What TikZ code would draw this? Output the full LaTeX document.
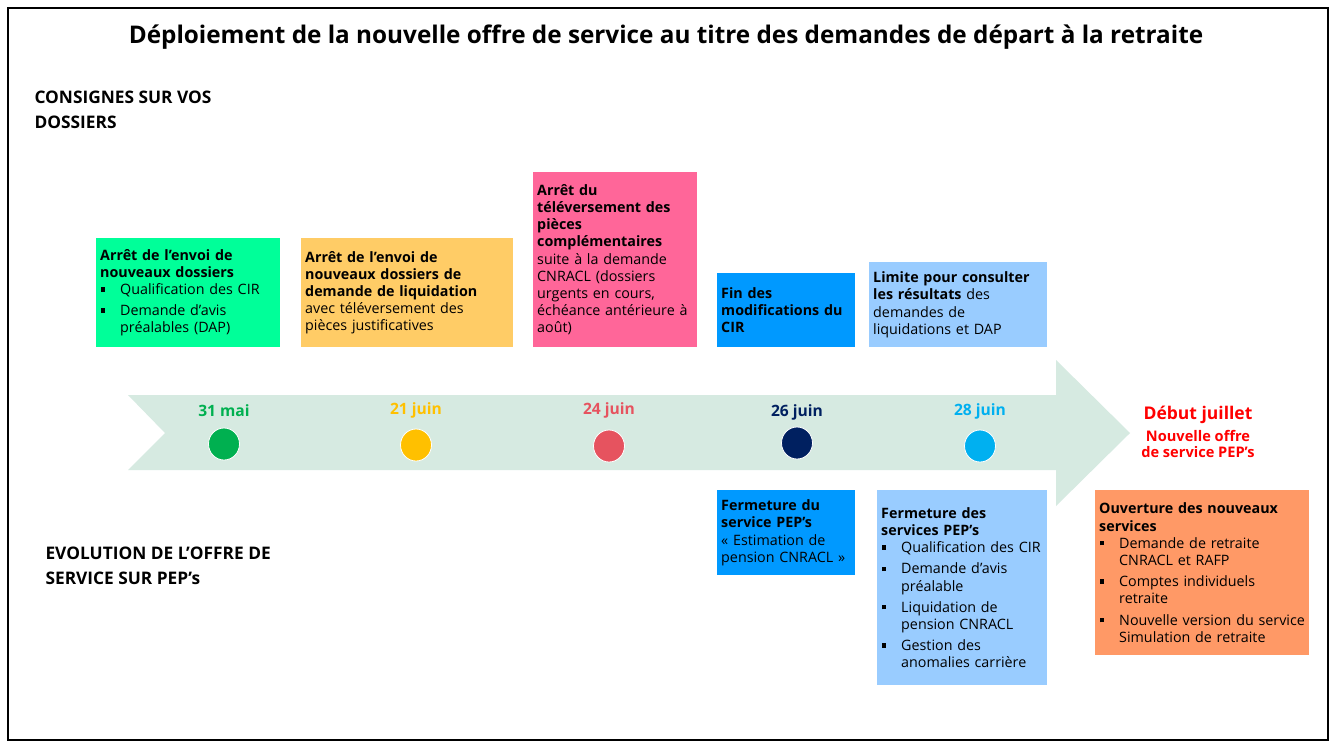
\documentclass[tikz,border=0pt]{standalone}
\usepackage{fontspec}
\setmainfont{Open Sans}
\usetikzlibrary{positioning,shapes.geometric}
\definecolor{boxgreen}{RGB}{0,255,153}
\definecolor{boxorange}{RGB}{255,204,102}
\definecolor{boxpink}{RGB}{255,102,153}
\definecolor{boxblue}{RGB}{0,153,255}
\definecolor{boxlight}{RGB}{153,204,255}
\definecolor{boxsalmon}{RGB}{255,153,102}
\definecolor{arrowmint}{RGB}{214,234,225}
\definecolor{dgreen}{RGB}{0,176,80}
\definecolor{dyellow}{RGB}{255,192,0}
\definecolor{dred}{RGB}{230,83,95}
\definecolor{dnavy}{RGB}{0,32,96}
\definecolor{dcyan}{RGB}{0,176,240}
\newcommand{\bitem}[1]{\par\addvspace{4pt}{\leftskip=20pt\noindent\llap{\makebox[20pt][l]{\hspace{0.5pt}\rule[2.8pt]{4.5pt}{4.5pt}}}#1\par}}
\tikzset{
  panel/.style={draw=none, anchor=north west, inner sep=0pt},
  paneltext/.style={anchor=west, align=left, inner sep=0pt,
    font=\fontsize{14.3}{17.2}\selectfont, text=black},
  datelabel/.style={font=\bfseries\fontsize{15.6}{18}\selectfont},
  dot/.style={ellipse, draw=white, line width=0.8pt, minimum width=31pt, minimum height=32pt, inner sep=0pt},
  sidelabel/.style={anchor=west, align=left, font=\bfseries\fontsize{17.3}{24.5}\selectfont}
}
\begin{document}
\begin{tikzpicture}[x=1pt,y=-1pt]
\useasboundingbox (0,0) rectangle (1337,748);
\fill[white] (0,0) rectangle (1337,748);
\draw[line width=2.5pt] (8,8) rectangle (1328,740);

\node[font=\bfseries\fontsize{24.3}{28}\selectfont] (title) at (666,37) {Déploiement de la nouvelle offre de service au titre des demandes de départ à la retraite};

\node[sidelabel] (consignes) at (31,110) {CONSIGNES SUR VOS\\DOSSIERS};
\node[sidelabel] (evolution) at (42,566) {EVOLUTION DE L’OFFRE DE\\SERVICE SUR PEP’s};

% arrow
\fill[arrowmint] (128,395) -- (1056,395) -- (1056,360) -- (1130,433) -- (1056,506) -- (1056,470) -- (128,470) -- (165,433) -- cycle;

% dates
\node[datelabel, text=dgreen] (d1) at (224,411) {31 mai};
\node[dot, fill=dgreen] (c1) at (224,444) {};
\node[datelabel, text=dyellow] (d2) at (416,410) {21 juin};
\node[dot, fill=dyellow] (c2) at (416,445) {};
\node[datelabel, text=dred] (d3) at (609,410) {24 juin};
\node[dot, fill=dred] (c3) at (609,446) {};
\node[datelabel, text=dnavy] (d4) at (797,412) {26 juin};
\node[dot, fill=dnavy] (c4) at (797,443) {};
\node[datelabel, text=dcyan] (d5) at (980,411) {28 juin};
\node[dot, fill=dcyan] (c5) at (980,446) {};

\node[text=red, font=\bfseries\fontsize{17.5}{19}\selectfont] (debut) at (1198,415) {Début juillet};
\node[text=red, align=center, font=\bfseries\fontsize{14.6}{16.5}\selectfont, below=-1pt of debut, anchor=north] (nouvelle) {Nouvelle offre\\de service PEP’s};

% top panels
\node[panel, fill=boxgreen, minimum width=184pt, minimum height=109pt] (b1) at (96,238) {};
\node[paneltext, text width=184pt] (t1) at ([xshift=4pt]b1.west) {\textbf{Arrêt de l’envoi de}\\\textbf{nouveaux dossiers}\par\vspace{-4pt}
\bitem{Qualification des CIR}
\bitem{Demande d’avis\\préalables (DAP)}};

\node[panel, fill=boxorange, minimum width=212pt, minimum height=109pt] (b2) at (301,238) {};
\node[paneltext, text width=212pt] (t2) at ([xshift=4pt]b2.west) {\textbf{Arrêt de l’envoi de}\\\textbf{nouveaux dossiers de}\\\textbf{demande de liquidation}\\avec téléversement des\\pièces justificatives};

\node[panel, fill=boxpink, minimum width=164pt, minimum height=175pt] (b3) at (533,172) {};
\node[paneltext, text width=164pt] (t3) at ([xshift=4pt]b3.west) {\textbf{Arrêt du}\\\textbf{téléversement des}\\\textbf{pièces}\\\textbf{complémentaires}\\suite à la demande\\CNRACL (dossiers\\urgents en cours,\\échéance antérieure à\\août)};

\node[panel, fill=boxblue, minimum width=138pt, minimum height=74pt] (b4) at (717,273) {};
\node[paneltext, text width=138pt] (t4) at ([xshift=4pt]b4.west) {\textbf{Fin des}\\\textbf{modifications du}\\\textbf{CIR}};

\node[panel, fill=boxlight, minimum width=178pt, minimum height=85pt] (b5) at (869,262) {};
\node[paneltext, text width=178pt] (t5) at ([xshift=4pt]b5.west) {\textbf{Limite pour consulter}\\\textbf{les résultats} des\\demandes de\\liquidations et DAP};

% bottom panels
\node[panel, fill=boxblue, minimum width=138pt, minimum height=85pt] (b6) at (717,490) {};
\node[paneltext, text width=138pt] (t6) at ([xshift=4pt]b6.west) {\textbf{Fermeture du}\\\textbf{service PEP’s}\\« Estimation de\\pension CNRACL »};

\node[panel, fill=boxlight, minimum width=170pt, minimum height=195pt] (b7) at (877,490) {};
\node[paneltext, text width=170pt] (t7) at ([xshift=4pt]b7.west) {\textbf{Fermeture des}\\\textbf{services PEP’s}\par\vspace{-4pt}
\bitem{Qualification des CIR}
\bitem{Demande d’avis\\préalable}
\bitem{Liquidation de\\pension CNRACL}
\bitem{Gestion des\\anomalies carrière}};

\node[panel, fill=boxsalmon, minimum width=214pt, minimum height=165pt] (b8) at (1095,490) {};
\node[paneltext, text width=214pt] (t8) at ([xshift=4pt]b8.west) {\textbf{Ouverture des nouveaux}\\\textbf{services}\par\vspace{-4pt}
\bitem{Demande de retraite\\CNRACL et RAFP}
\bitem{Comptes individuels\\retraite}
\bitem{Nouvelle version du service\\Simulation de retraite}};
\end{tikzpicture}
\end{document}
